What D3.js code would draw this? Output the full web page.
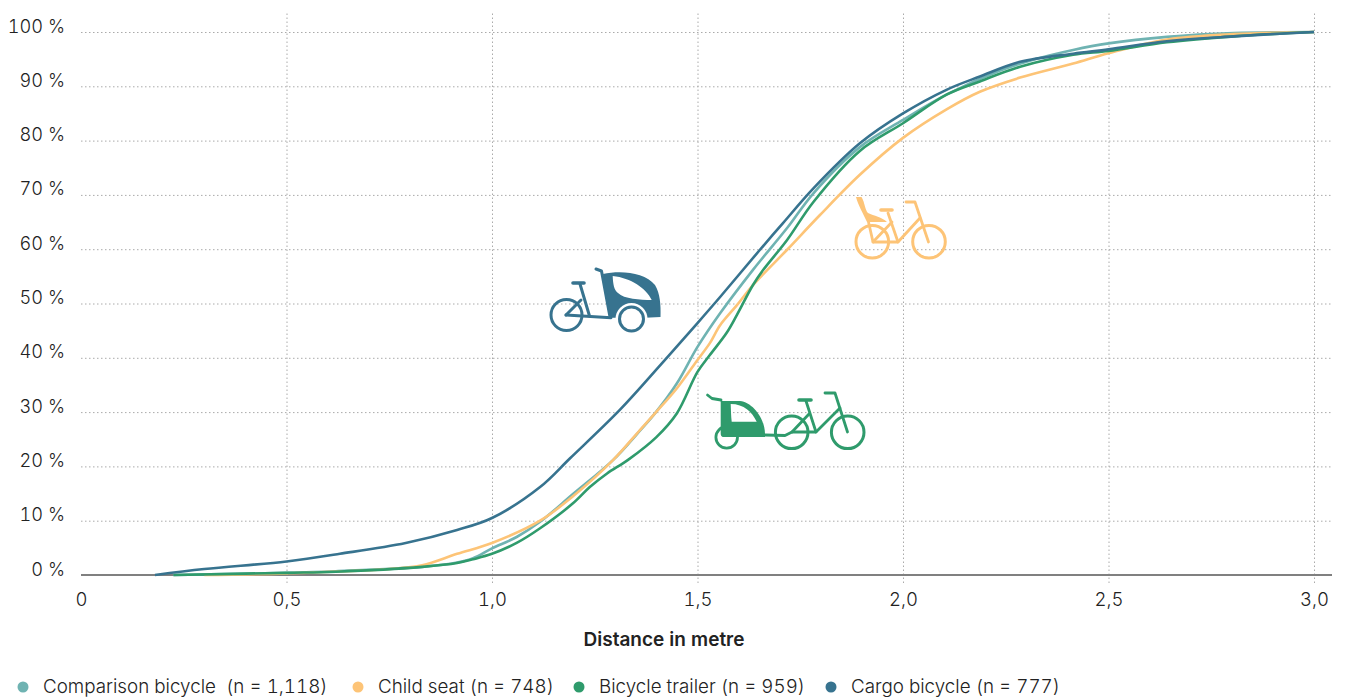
<!DOCTYPE html>
<html>
<head>
<meta charset="utf-8">
<script src="https://cdnjs.cloudflare.com/ajax/libs/d3/7.8.5/d3.min.js"></script>
<style>
  html, body { margin: 0; padding: 0; background: #fff; }
  text { font-family: Inter, sans-serif; font-weight: 300; fill: #222; font-variant-numeric: tabular-nums; white-space: pre; }
</style>
</head>
<body>
<div id="chart"></div>
<script>
// Values: x is distance in metres, y is cumulative percent
const comparisonX = [0.225, 0.5, 0.62, 0.83, 0.915, 0.954, 1.0, 1.06, 1.117, 1.197, 1.295, 1.36, 1.397, 1.45, 1.5, 1.555, 1.635, 1.718, 1.782, 1.895, 2.0, 2.107, 2.236, 2.317, 2.414, 2.5, 2.642, 2.805, 3.0];
const comparisonY = [0, 0.4, 0.7, 1.5, 2.3, 3.1, 4.9, 7, 9.8, 14.9, 21.2, 26.6, 29.8, 35.3, 42, 48.2, 56.2, 63.9, 70.3, 78.8, 83.8, 88.5, 92.9, 94.9, 96.7, 97.9, 99.1, 99.8, 100];
const childX = [0.3, 0.5, 0.75, 0.83, 0.915, 1.0, 1.117, 1.197, 1.295, 1.36, 1.397, 1.45, 1.5, 1.53, 1.555, 1.596, 1.635, 1.718, 1.798, 1.895, 2.0, 2.107, 2.187, 2.285, 2.414, 2.5, 2.642, 2.805, 3.0];
const childY = [0, 0.3, 1.1, 1.8, 3.9, 5.9, 10, 14.5, 21.2, 26.7, 29.8, 34.4, 39.6, 42.7, 46, 49.7, 53.4, 59.9, 66.3, 73.7, 80.5, 85.8, 89, 91.6, 94.2, 96.1, 98.6, 99.6, 100];
const trailerX = [0.225, 0.5, 0.62, 0.83, 0.915, 0.954, 1.0, 1.06, 1.117, 1.197, 1.238, 1.28, 1.331, 1.4, 1.45, 1.5, 1.53, 1.571, 1.596, 1.635, 1.66, 1.718, 1.782, 1.895, 2.0, 2.107, 2.187, 2.285, 2.414, 2.5, 2.642, 2.805, 3.0];
const trailerY = [0, 0.4, 0.6, 1.5, 2.2, 2.9, 3.9, 5.9, 8.6, 13.2, 16.2, 18.7, 21.2, 25.4, 29.8, 37.4, 40.5, 44.6, 47.9, 53.4, 56.2, 61.7, 68.7, 78.1, 83.2, 88.5, 90.9, 93.6, 95.8, 96.5, 98.1, 99.2, 100];
const cargoX = [0.18, 0.3, 0.5, 0.63, 0.79, 0.915, 1.0, 1.117, 1.19, 1.311, 1.409, 1.5, 1.555, 1.652, 1.708, 1.782, 1.895, 2.0, 2.107, 2.187, 2.285, 2.414, 2.5, 2.642, 2.805, 3.0];
const cargoY = [0, 1.1, 2.5, 3.9, 5.9, 8.3, 10.5, 16.2, 21.5, 30.4, 38.6, 46.4, 51.2, 59.9, 64.8, 71.2, 79.5, 85, 89.4, 91.8, 94.5, 96, 96.8, 98.3, 99.2, 100];

const seriesNames = ['Comparison bicycle  (n = 1,118)', 'Child seat (n = 748)', 'Bicycle trailer (n = 959)', 'Cargo bicycle (n = 777)'];
const seriesColors = ['#6fb3b2', '#fdc477', '#2f9b6c', '#37738f'];
const seriesX = [comparisonX, childX, trailerX, cargoX];
const seriesY = [comparisonY, childY, trailerY, cargoY];
const xTicks = [0, 0.5, 1, 1.5, 2, 2.5, 3];
const yTicks = [0, 10, 20, 30, 40, 50, 60, 70, 80, 90, 100];
const legendDotX = [23, 358, 579, 831];

const width = 1345, height = 698;
const svg = d3.select('#chart').append('svg')
  .attr('width', width).attr('height', height)
  .style('display', 'block');

const x = d3.scaleLinear().domain([0, 3]).range([81, 1314]);
const y = d3.scaleLinear().domain([0, 100]).range([575, 32]);

// Gridlines
svg.append('g')
  .attr('transform', 'translate(0,583)')
  .call(d3.axisBottom(x).tickValues(xTicks.slice(1)).tickSize(-572).tickFormat(''))
  .call(g => g.select('.domain').remove())
  .selectAll('line')
  .attr('stroke', '#aaa').attr('stroke-dasharray', '1.5 2.5');

svg.append('g')
  .attr('transform', 'translate(81,0)')
  .call(d3.axisRight(y).tickValues(yTicks.slice(1)).tickSize(1252).tickFormat(''))
  .call(g => g.select('.domain').remove())
  .selectAll('line')
  .attr('stroke', '#aaa').attr('stroke-dasharray', '1.5 2.5');

// Axes
svg.append('line')
  .attr('x1', 81).attr('x2', 1332)
  .attr('y1', y(0)).attr('y2', y(0))
  .attr('stroke', '#808080').attr('stroke-width', 2);

svg.append('g')
  .attr('transform', 'translate(0,575)')
  .call(d3.axisBottom(x).tickValues(xTicks).tickSize(0).tickPadding(18)
    .tickFormat(d => d === 0 ? '0' : d3.format('.1f')(d).replace('.', ',')))
  .call(g => g.select('.domain').remove())
  .selectAll('text')
  .attr('font-size', '18.5px').style('font-family', 'Inter, sans-serif').style('font-weight', 300);

svg.append('g')
  .attr('transform', 'translate(65,0)')
  .call(d3.axisLeft(y).tickValues(yTicks).tickSize(0).tickPadding(0).tickFormat(d => d + ' %'))
  .call(g => g.select('.domain').remove())
  .selectAll('text')
  .attr('dy', '0em')
  .attr('font-size', '18.2px').style('font-family', 'Inter, sans-serif').style('font-weight', 300);

svg.append('text')
  .attr('x', 664).attr('y', 646)
  .attr('text-anchor', 'middle')
  .attr('font-size', '19px')
  .style('font-weight', 600)
  .text('Distance in metre');

// Lines
const line = d3.line()
  .x(d => x(d[0]))
  .y(d => y(d[1]))
  .curve(d3.curveCatmullRom.alpha(0.5));

seriesNames.forEach((name, i) => {
  svg.append('path')
    .datum(seriesX[i].map((v, j) => [v, seriesY[i][j]]))
    .attr('d', line)
    .attr('fill', 'none')
    .attr('stroke', seriesColors[i])
    .attr('stroke-width', 2.6);
});

// Legend
seriesNames.forEach((name, i) => {
  svg.append('circle')
    .attr('cx', legendDotX[i]).attr('cy', 687).attr('r', 5.5)
    .attr('fill', seriesColors[i]);
  svg.append('text')
    .attr('x', legendDotX[i] + 20).attr('y', 693)
    .attr('font-size', '18.8px')
    .text(name);
});

// Bicycle pictograms
function strokes(g, color, sw, paths) {
  paths.forEach(d => g.append('path').attr('d', d)
    .attr('fill', 'none').attr('stroke', color).attr('stroke-width', sw)
    .attr('stroke-linecap', 'round').attr('stroke-linejoin', 'round'));
}
function wheel(g, color, cx, cy, r, sw) {
  g.append('circle').attr('cx', cx).attr('cy', cy).attr('r', r)
    .attr('fill', 'none').attr('stroke', color).attr('stroke-width', sw);
}

// Cargo bicycle
const cargoIcon = svg.append('g');
cargoIcon.append('path')
  .attr('d', 'M603,274 C620,270 645,272 655,285 C660,293 661,305 660.5,317 L645,317.7 L610,317.7 Z M612.7,276 C613,284 614,290 618,293 C624,299 640,300 651.7,300 C646,288 631,278 612.7,276 Z')
  .attr('fill', seriesColors[3]).attr('fill-rule', 'evenodd');
cargoIcon.append('circle').attr('cx', 631.5).attr('cy', 319).attr('r', 16).attr('fill', '#fff');
wheel(cargoIcon, seriesColors[3], 631.5, 319, 12, 3);
wheel(cargoIcon, seriesColors[3], 566.5, 315, 15.5, 3);
strokes(cargoIcon, seriesColors[3], 3, [
  'M566,315 L611,317.7',
  'M566,315 L581,300',
  'M580,284 L589.5,316',
  'M596,269 L601.5,271 L610,317'
]);
strokes(cargoIcon, seriesColors[3], 3.6, ['M573,283 L584,283']);

// Bicycle trailer
const trailerIcon = svg.append('g');
wheel(trailerIcon, seriesColors[2], 726.7, 437.3, 10.8, 2.8);
trailerIcon.append('path')
  .attr('d', 'M720.7,401 L740,401 C752,402 765,418 765,434 L765,437 L724,437 C721,437 720.7,435 720.7,433 Z M730.7,404 C731,410 731,416 731.7,421.7 L756.7,421.7 C752,412 744,404 730.7,404 Z')
  .attr('fill', seriesColors[2]).attr('fill-rule', 'evenodd');
wheel(trailerIcon, seriesColors[2], 791.7, 432.3, 16.3, 3);
wheel(trailerIcon, seriesColors[2], 847.7, 432.3, 16.3, 3);
strokes(trailerIcon, seriesColors[2], 2.8, [
  'M707.5,395 L712,398.5 L721,400',
  'M765,435 L785,435.5 L792,432 L816,432 L840,408',
  'M792,432 L809,414',
  'M806,401 L816,432',
  'M825,393 L835,393 L847.5,432'
]);
strokes(trailerIcon, seriesColors[2], 3.6, ['M799,400 L811,400']);

// Child seat
const childIcon = svg.append('g');
wheel(childIcon, seriesColors[1], 872.3, 241.7, 16.3, 3);
wheel(childIcon, seriesColors[1], 929, 241.7, 16.3, 3);
childIcon.append('path')
  .attr('d', 'M856,197 L861.5,197 C865,203 865,210 868,213 C874,216 882,217 887,222 L867,222 C863,213 858,205 856,197 Z')
  .attr('fill', seriesColors[1]);
strokes(childIcon, seriesColors[1], 2.8, [
  'M868.5,222 L873,242 L898,242 L920,218',
  'M873,242 L892,222',
  'M888,213 L898,242',
  'M906,202 L915,202 L928.5,242'
]);
strokes(childIcon, seriesColors[1], 3.6, ['M881,210 L892,210']);
</script>
</body>
</html>
